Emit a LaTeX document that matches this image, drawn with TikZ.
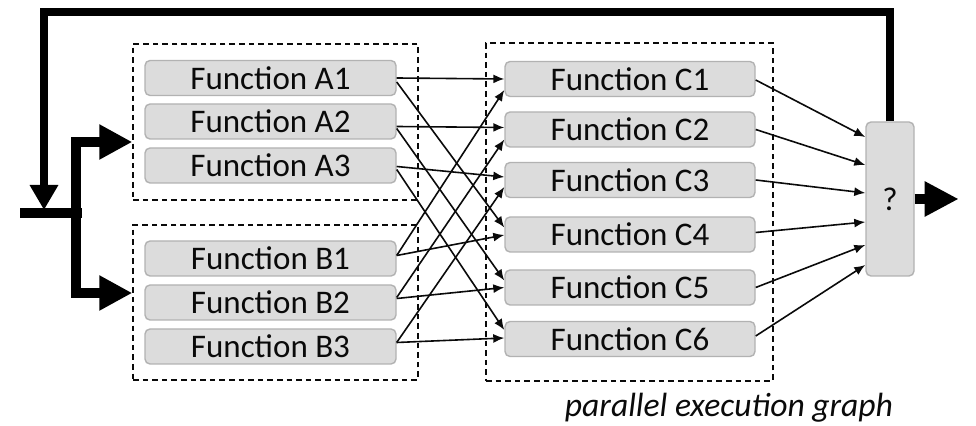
\documentclass[tikz,border=0pt]{standalone}
\usepackage{fontspec}
\setmainfont{Carlito}
\usetikzlibrary{arrows.meta,calc}
\definecolor{nodefill}{HTML}{DCDCDC}
\definecolor{nodeline}{HTML}{B2B2B2}
\definecolor{ink}{HTML}{0A0A0A}
\begin{document}
\begin{tikzpicture}[x=0.5pt,y=-0.5pt,
  fn/.style={draw=nodeline, fill=nodefill, rounded corners=2.5pt, minimum width=125.5pt,
    minimum height=17.5pt, inner sep=0pt, line width=0.7pt, text=ink,
    font=\fontsize{16.5}{18}\selectfont},
  grp/.style={draw=ink, dash pattern=on 2.8pt off 2pt, line width=0.7pt, inner sep=0pt},
  arr/.style={draw=ink, line width=0.8pt, -{Latex[length=5.5pt,width=4.5pt]}},
  thickarr/.style={draw=black, line width=5pt, line join=miter},
  loopline/.style={draw=black, line width=4pt, line join=miter}]
\useasboundingbox (0,0) rectangle (976,426);

% groups
\node[grp, minimum width=142.5pt, minimum height=78pt] (gA) at (275.5,122) {};
\node[grp, minimum width=142.5pt, minimum height=77.5pt] (gB) at (275.5,302.5) {};
\node[grp, minimum width=143.5pt, minimum height=169pt] (gC) at (629.5,212) {};

% function nodes
\node[fn] (A1) at (270.5,78) {Function A1};
\node[fn] (A2) at (270.5,121.5) {Function A2};
\node[fn] (A3) at (270.5,165.5) {Function A3};
\node[fn] (B1) at (270.5,258.5) {Function B1};
\node[fn] (B2) at (270.5,302.5) {Function B2};
\node[fn] (B3) at (270.5,346.5) {Function B3};
\node[fn, minimum width=125pt] (C1) at (630,79) {Function C1};
\node[fn, minimum width=125pt] (C2) at (630,129.5) {Function C2};
\node[fn, minimum width=125pt] (C3) at (630,180) {Function C3};
\node[fn, minimum width=125pt] (C4) at (630,234.5) {Function C4};
\node[fn, minimum width=125pt] (C5) at (630,287.5) {Function C5};
\node[fn, minimum width=125pt] (C6) at (630,339) {Function C6};
\node[fn, minimum width=24pt, minimum height=77pt] (Q) at (890,199) {?};

% caption
\node[font=\fontsize{16.8}{18}\itshape\selectfont, text=ink] (cap) at (729,408) {parallel execution graph};

% input branch
\coordinate (in) at (20,213);
\coordinate (j) at (82,213);
\coordinate (jA) at (76,142);
\coordinate (jB) at (76,293);
\draw[thickarr] (in) -- (j);
\draw[thickarr, {Triangle[length=16.5pt,width=16.5pt]}-{Triangle[length=16.5pt,width=16.5pt]}]
  (gA.west |- jA) -- (jA) -- (jB) -- (gB.west |- jB);

% feedback loop
\coordinate (lt) at (44,12);
\coordinate (le) at (44,210);
\draw[loopline, -{Triangle[length=12.5pt,width=13.5pt]}] (Q.north) |- (lt) -- (le);

% output
\draw[thickarr, -{Triangle[length=17pt,width=16.5pt]}] (Q.east) -- ++(44,0);

% A/B -> C
\draw[arr] (A1.east) -- (C1.west);
\draw[arr] ($(A1.east)+(0,4)$) -- ($(C4.west)+(0,-7)$);
\draw[arr] ($(A2.east)+(0,5)$) -- ($(C2.west)+(0,-2)$);
\draw[arr] ($(A2.east)+(0,7)$) -- ($(C5.west)+(0,-7)$);
\draw[arr] ($(A3.east)+(0,1)$) -- ($(C3.west)+(0,-3)$);
\draw[arr] ($(A3.east)+(0,4)$) -- ($(C6.west)+(0,-9)$);
\draw[arr] ($(B1.east)+(0,-3)$) -- ($(C4.west)+(0,0.5)$);
\draw[arr] ($(B1.east)+(0,-3)$) -- ($(C1.west)+(0,11)$);
\draw[arr] ($(B2.east)+(0,-4)$) -- (C5.west);
\draw[arr] ($(B2.east)+(0,-5)$) -- ($(C2.west)+(0,10)$);
\draw[arr] ($(B3.east)+(0,-4)$) -- ($(C6.west)+(0,-1)$);
\draw[arr] ($(B3.east)+(0,-4)$) -- ($(C3.west)+(0,7)$);

% C -> ?
\draw[arr] ($(C1.east)+(0,1)$) -- ($(Q.west)+(0,-62)$);
\draw[arr] (C2.east) -- ($(Q.west)+(0,-34)$);
\draw[arr] (C3.east) -- ($(Q.west)+(0,-6)$);
\draw[arr] ($(C4.east)+(0,-2)$) -- ($(Q.west)+(0,23)$);
\draw[arr] (C5.east) -- ($(Q.west)+(0,46)$);
\draw[arr] ($(C6.east)+(0,-3)$) -- ($(Q.west)+(0,66)$);
\end{tikzpicture}
\end{document}
